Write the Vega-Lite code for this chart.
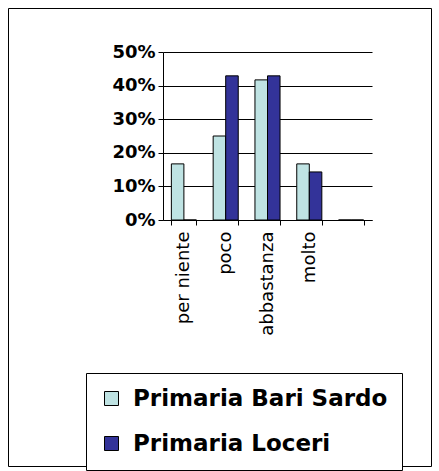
{
  "$schema": "https://vega.github.io/schema/vega-lite/v6.json",
  "width": 423,
  "height": 458,
  "autosize": {"type": "none"},
  "padding": {"left": 8, "top": 8, "right": 8, "bottom": 5},
  "background": "white",
  "config": {"view": {"stroke": "black", "strokeWidth": 1}},
  "data": {
    "values": [
      {"risposta": "per niente", "scuola": "Primaria Bari Sardo", "valore": 0.167},
      {"risposta": "per niente", "scuola": "Primaria Loceri", "valore": 0},
      {"risposta": "poco", "scuola": "Primaria Bari Sardo", "valore": 0.25},
      {"risposta": "poco", "scuola": "Primaria Loceri", "valore": 0.429},
      {"risposta": "abbastanza", "scuola": "Primaria Bari Sardo", "valore": 0.417},
      {"risposta": "abbastanza", "scuola": "Primaria Loceri", "valore": 0.429},
      {"risposta": "molto", "scuola": "Primaria Bari Sardo", "valore": 0.167},
      {"risposta": "molto", "scuola": "Primaria Loceri", "valore": 0.143},
      {"risposta": "", "scuola": "Primaria Bari Sardo", "valore": 0},
      {"risposta": "", "scuola": "Primaria Loceri", "valore": 0}
    ]
  },
  "mark": {"type": "bar", "stroke": "black", "strokeWidth": 1},
  "encoding": {
    "x": {
      "field": "risposta",
      "type": "nominal",
      "sort": ["per niente", "poco", "abbastanza", "molto", ""],
      "scale": {"range": [155, 364], "paddingInner": 0.4, "paddingOuter": 0.2},
      "axis": {
        "orient": "bottom",
        "offset": -246,
        "title": null,
        "labelAngle": -90,
        "labelFont": "DejaVu Sans",
        "labelFontSize": 18,
        "labelColor": "black",
        "labelLimit": 300,
        "tickColor": "black",
        "domainColor": "black",
        "tickSize": 5,
        "labelPadding": 6,
        "tickBand": "extent",
        "grid": false
      }
    },
    "xOffset": {
      "field": "scuola",
      "type": "nominal",
      "sort": ["Primaria Bari Sardo", "Primaria Loceri"],
      "scale": {"paddingInner": 0}
    },
    "y": {
      "field": "valore",
      "type": "quantitative",
      "scale": {"domain": [0, 0.5], "range": [212, 44], "nice": false},
      "axis": {
        "orient": "left",
        "offset": -155,
        "title": null,
        "format": ".0%",
        "values": [0, 0.1, 0.2, 0.3, 0.4, 0.5],
        "labelFont": "DejaVu Sans",
        "labelFontSize": 18,
        "labelFontWeight": "bold",
        "labelColor": "black",
        "tickColor": "black",
        "domainColor": "black",
        "tickSize": 5,
        "labelPadding": 3,
        "grid": true,
        "gridColor": "black",
        "gridOpacity": 1
      }
    },
    "color": {
      "field": "scuola",
      "type": "nominal",
      "scale": {
        "domain": ["Primaria Bari Sardo", "Primaria Loceri"],
        "range": ["#BFE3E3", "#333399"]
      },
      "legend": {
        "orient": "none",
        "legendX": 78,
        "legendY": 365,
        "title": null,
        "strokeColor": "black",
        "fillColor": "white",
        "padding": 14,
        "labelFont": "DejaVu Sans",
        "labelFontSize": 23,
        "labelFontWeight": "bold",
        "labelColor": "black",
        "labelLimit": 400,
        "labelOffset": 10,
        "symbolType": "square",
        "symbolSize": 196,
        "symbolStrokeColor": "black",
        "symbolStrokeWidth": 1,
        "rowPadding": 21
      }
    }
  }
}
